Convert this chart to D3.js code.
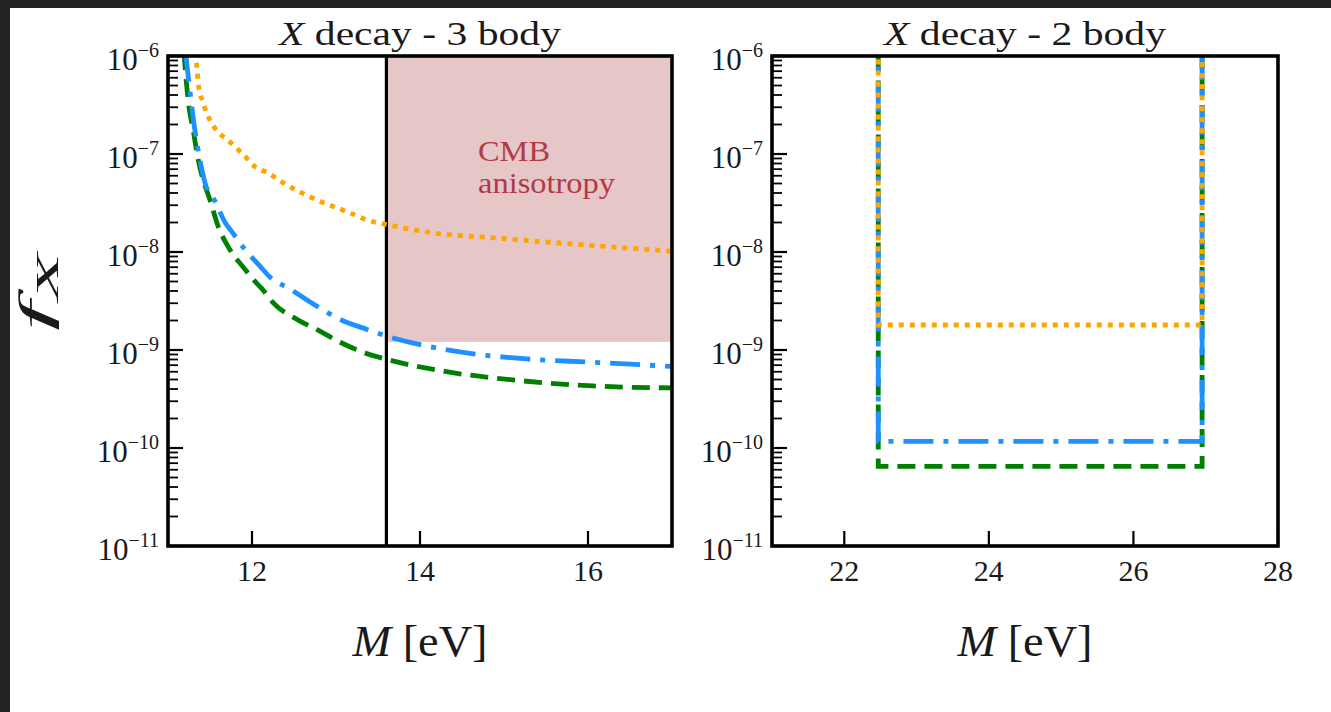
<!DOCTYPE html>
<html><head><meta charset="utf-8">
<script src="https://cdn.jsdelivr.net/npm/d3@7"></script>
<style>html,body{margin:0;padding:0;background:#fff;overflow:hidden} svg{display:block}</style>
</head><body>
<svg id="c" width="1331" height="712"></svg>
<script>
// ---------------- data ----------------
const yExponents = [-11, -10, -9, -8, -7, -6];
const ticks3 = [12, 14, 16];
const ticks2 = [22, 24, 26, 28];
const xDomain3 = [11, 17];
const xDomain2 = [21, 28];
const yDomain = [1e-11, 1e-6];

// X decay - 3 body
const greenM3 = [11.19, 11.20, 11.24, 11.30, 11.36, 11.42, 11.50, 11.60, 11.74, 11.92, 12.01, 12.12, 12.25, 12.54, 12.77, 13.05, 13.32, 13.61, 14.27, 15.27, 16.06, 17.0];
const greenF3 = [1.1e-6, 8.4e-7, 3.5e-7, 1.75e-7, 8.7e-8, 5.4e-8, 3.4e-8, 1.8e-8, 1.05e-8, 6.6e-9, 5.3e-9, 4.2e-9, 3.05e-9, 2.04e-9, 1.62e-9, 1.2e-9, 9.5e-10, 8.0e-10, 6.1e-10, 4.8e-10, 4.3e-10, 4.1e-10];
const blueM3 = [11.21, 11.22, 11.26, 11.32, 11.38, 11.44, 11.56, 11.68, 11.77, 11.92, 12.10, 12.21, 12.45, 12.77, 13.05, 13.37, 13.61, 14.27, 15.27, 16.06, 17.0];
const blueF3 = [1.1e-6, 9.0e-7, 4.5e-7, 1.75e-7, 8.7e-8, 5.1e-8, 3.3e-8, 2.0e-8, 1.57e-8, 1.05e-8, 7.1e-9, 5.6e-9, 4.2e-9, 2.8e-9, 2.05e-9, 1.62e-9, 1.38e-9, 1.02e-9, 8.1e-10, 7.5e-10, 6.8e-10];
const orangeM3 = [11.32, 11.34, 11.36, 11.42, 11.50, 11.60, 11.71, 11.88, 12.04, 12.19, 12.37, 12.77, 13.17, 13.35, 13.68, 14.08, 14.95, 16.14, 17.0];
const orangeF3 = [1.1e-6, 8.4e-7, 5.3e-7, 3.3e-7, 2.2e-7, 1.67e-7, 1.39e-7, 1.02e-7, 7.4e-8, 6.4e-8, 5.1e-8, 3.4e-8, 2.5e-8, 2.15e-8, 1.85e-8, 1.6e-8, 1.38e-8, 1.15e-8, 1.02e-8];

const cmbMass = [13.6, 17];
const cmbF = [1.21e-9, 1e-6];
const thresholdM = 13.6;

// X decay - 2 body
const boxM2 = [22.47, 26.95];
const seriesNames = ["green", "blue", "orange"];
const levels2 = [6.5e-11, 1.17e-10, 1.8e-9];
const topF = 2e-6;

// ---------------- styles ----------------
const colors = {green: "#008000", blue: "#1e90ff", orange: "#ffa500"};
const dashes = {green: "18,9", blue: "30,10,5,10", orange: "5,6"};
const FONT = "Liberation Serif";

const svg = d3.select("#c");
svg.append("rect").attr("width", 1331).attr("height", 712).attr("fill", "#fff");
svg.append("rect").attr("width", 1331).attr("height", 8).attr("fill", "#222");
svg.append("rect").attr("width", 10).attr("height", 712).attr("fill", "#222");

const yTop = 56, yBottom = 546;
const y = d3.scaleLog().domain(yDomain).range([yBottom, yTop]);

function panel(id, left, right, xDomain, xTicks, title) {
  const x = d3.scaleLinear().domain(xDomain).range([left, right]);
  const g = svg.append("g");
  svg.append("clipPath").attr("id", id).append("rect")
    .attr("x", left).attr("y", yTop).attr("width", right - left).attr("height", yBottom - yTop);
  const plot = g.append("g").attr("clip-path", `url(#${id})`);
  const overlay = g.append("g");
  const minor = [];
  for (let e = -11; e < -6; e++) for (let k = 2; k <= 9; k++) minor.push(k * Math.pow(10, e));
  overlay.selectAll("line.minor").data(minor).join("line")
    .attr("x1", left).attr("x2", left + 10)
    .attr("y1", d => y(d)).attr("y2", d => y(d))
    .attr("stroke", "#000").attr("stroke-width", 1.8);
  overlay.selectAll("line.major").data(yExponents).join("line")
    .attr("x1", left).attr("x2", left + 15)
    .attr("y1", d => y(Math.pow(10, d))).attr("y2", d => y(Math.pow(10, d)))
    .attr("stroke", "#000").attr("stroke-width", 2.2);
  overlay.selectAll("line.xt").data(xTicks).join("line")
    .attr("x1", d => x(d)).attr("x2", d => x(d))
    .attr("y1", yBottom).attr("y2", yBottom - 15)
    .attr("stroke", "#000").attr("stroke-width", 2.2);
  overlay.append("rect").attr("x", left).attr("y", yTop)
    .attr("width", right - left).attr("height", yBottom - yTop)
    .attr("fill", "none").attr("stroke", "#000").attr("stroke-width", 3.6);
  yExponents.forEach(e => {
    const t = overlay.append("text").attr("x", left - 9).attr("y", y(Math.pow(10, e)) + 14)
      .attr("text-anchor", "end").attr("font-family", FONT).attr("font-size", 31).attr("fill", "#1a1a1a");
    t.append("tspan").text("10");
    t.append("tspan").attr("dy", -13).attr("font-size", 20).text("\u2212" + Math.abs(e));
  });
  overlay.selectAll("text.xl").data(xTicks).join("text")
    .attr("x", d => x(d)).attr("y", 581).attr("text-anchor", "middle")
    .attr("font-family", FONT).attr("font-size", 30).attr("fill", "#1a1a1a").text(d => d);
  const cx = (left + right) / 2;
  const tt = svg.append("text").attr("x", cx).attr("y", 45).attr("text-anchor", "middle")
    .attr("font-family", FONT).attr("font-size", 33).attr("fill", "#1a1a1a")
    .attr("textLength", 282).attr("lengthAdjust", "spacingAndGlyphs");
  tt.append("tspan").attr("font-style", "italic").text("X");
  tt.append("tspan").text(" decay - " + title);
  const xl = svg.append("text").attr("x", cx).attr("y", 656).attr("text-anchor", "middle")
    .attr("font-family", FONT).attr("font-size", 44).attr("fill", "#1a1a1a")
    .attr("textLength", 135).attr("lengthAdjust", "spacingAndGlyphs");
  xl.append("tspan").attr("font-style", "italic").text("M");
  xl.append("tspan").text(" [eV]");
  return {x, plot, overlay};
}

// ----- left panel -----
const P1 = panel("clip1", 168, 672, xDomain3, ticks3, "3 body");
P1.plot.append("rect")
  .attr("x", P1.x(cmbMass[0])).attr("y", y(cmbF[1]))
  .attr("width", P1.x(cmbMass[1]) - P1.x(cmbMass[0]))
  .attr("height", y(cmbF[0]) - y(cmbF[1]))
  .attr("fill", "#e6c6c6");
P1.plot.append("text").attr("x", 478).attr("y", 161)
  .attr("font-family", FONT).attr("font-size", 29).attr("fill", "#b23a48")
  .attr("textLength", 72).attr("lengthAdjust", "spacingAndGlyphs").text("CMB");
P1.plot.append("text").attr("x", 478).attr("y", 193)
  .attr("font-family", FONT).attr("font-size", 29).attr("fill", "#b23a48")
  .attr("textLength", 137).attr("lengthAdjust", "spacingAndGlyphs").text("anisotropy");
P1.plot.append("line")
  .attr("x1", P1.x(thresholdM)).attr("x2", P1.x(thresholdM))
  .attr("y1", yTop).attr("y2", yBottom)
  .attr("stroke", "#000").attr("stroke-width", 3.2);

const series3 = {
  green: d3.zip(greenM3, greenF3),
  blue: d3.zip(blueM3, blueF3),
  orange: d3.zip(orangeM3, orangeF3)
};
const line3 = d3.line().x(d => P1.x(d[0])).y(d => y(d[1])).curve(d3.curveMonotoneX);
seriesNames.forEach(n => {
  P1.plot.append("path").datum(series3[n]).attr("d", line3)
    .attr("fill", "none").attr("stroke", colors[n]).attr("stroke-width", 4.8)
    .attr("stroke-dasharray", dashes[n]);
});

// ----- right panel -----
const P2 = panel("clip2", 772, 1278, xDomain2, ticks2, "2 body");
const line2 = d3.line().x(d => P2.x(d[0])).y(d => y(d[1]));
seriesNames.forEach((n, i) => {
  const pts = [[boxM2[0], topF], [boxM2[0], levels2[i]], [boxM2[1], levels2[i]], [boxM2[1], topF]];
  P2.plot.append("path").datum(pts).attr("d", line2)
    .attr("fill", "none").attr("stroke", colors[n]).attr("stroke-width", 4.8)
    .attr("stroke-dasharray", dashes[n]);
});

// y axis label
const yl = svg.append("text").attr("transform", "translate(50,292) rotate(-90)")
  .attr("text-anchor", "middle").attr("font-family", FONT).attr("font-size", 44).attr("fill", "#1a1a1a")
  .attr("textLength", 78).attr("lengthAdjust", "spacingAndGlyphs");
yl.append("tspan").attr("font-style", "italic").text("f");
yl.append("tspan").attr("font-style", "italic").attr("font-size", 32).attr("dy", 8).text("X");
</script>
</body></html>
